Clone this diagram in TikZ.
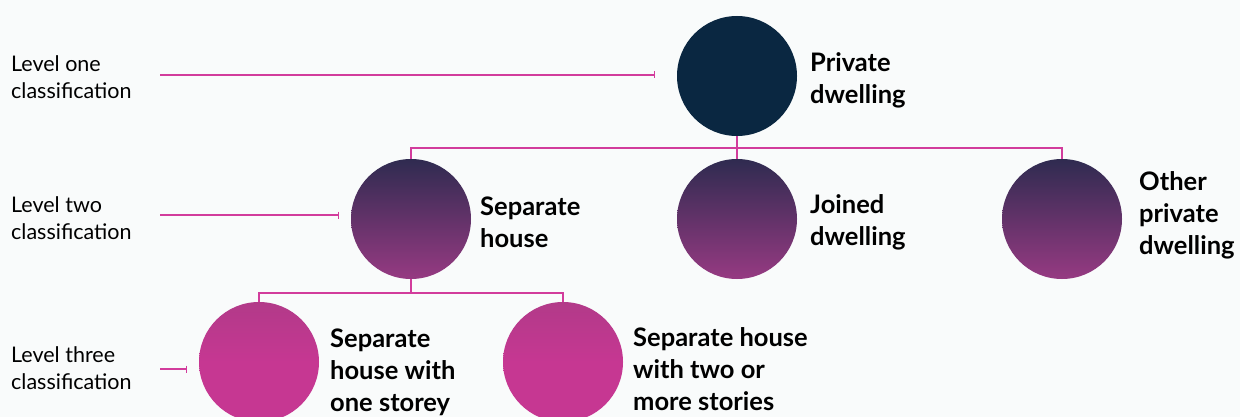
\documentclass[tikz,border=0pt]{standalone}
\usepackage{fontspec}
\setmainfont{Lato}
\usetikzlibrary{arrows.meta}
\definecolor{bg}{HTML}{F9FBFB}
\definecolor{mag}{HTML}{D23C9C}
\definecolor{navy}{HTML}{0A2741}
\definecolor{gtop}{HTML}{2F2B50}
\definecolor{gbot}{HTML}{963A82}
\definecolor{pink}{HTML}{C63792}
\definecolor{pinktop}{HTML}{B23A89}
\tikzset{
  bubble/.style={circle, minimum size=120pt, inner sep=0pt, draw=none},
  lvlone/.style={bubble, fill=navy},
  lvltwo/.style={bubble, top color=gtop, bottom color=gbot},
  lvlthree/.style={bubble, top color=pinktop, bottom color=pink, middle color=pink},
  lbl/.style={anchor=west, align=left, inner sep=0pt, font=\fontsize{25.5}{32}\selectfont\bfseries},
  lvl/.style={anchor=west, align=left, inner sep=0pt, font=\fontsize{21.5}{26.5}\selectfont},
  conn/.style={draw=mag, line width=2pt},
  guide/.style={draw=mag, line width=1.3pt, -{Bar[width=7pt,line width=1.3pt]}}
}
\begin{document}
\begin{tikzpicture}[x=1pt,y=-1pt]
\fill[bg] (0,0) rectangle (1240,417);
\useasboundingbox (0,0) rectangle (1240,417);
% circles
\node[lvlone] (p) at (737,76) {};
\node[lvltwo] (s) at (411,219) {};
\node[lvltwo] (j) at (737,219) {};
\node[lvltwo] (o) at (1062,219) {};
\node[lvlthree] (s1) at (259,362) {};
\node[lvlthree] (s2) at (563,362) {};
% connectors
\coordinate (b1) at (737,148);
\coordinate (b2) at (411,293);
\draw[conn] (p.south) -- (j.north);
\draw[conn] (s.north) |- (b1) -| (o.north);
\draw[conn] (s.south) -- (b2);
\draw[conn] (s1.north) |- (b2) -| (s2.north);
% level labels
\node[lvl] (l1) at (11,77) {Level one\\classification};
\node[lvl] (l2) at (11,218) {Level two\\classification};
\node[lvl] (l3) at (11,368) {Level three\\classification};
\coordinate (g1s) at (160,75); \coordinate (g1e) at (655,75);
\coordinate (g2s) at (160,215); \coordinate (g2e) at (339,215);
\coordinate (g3s) at (160,369); \coordinate (g3e) at (187,369);
\draw[guide] (g1s) -- (g1e);
\draw[guide] (g2s) -- (g2e);
\draw[guide] (g3s) -- (g3e);
% bold labels
\node[lbl] (tp) at (810,80) {Private\\dwelling};
\node[lbl] (ts) at (480,222) {Separate\\house};
\node[lbl] (tj) at (810,222) {Joined\\dwelling};
\node[lbl] (to) at (1139,215) {Other\\private\\dwelling};
\node[lbl] (ts1) at (330,372) {Separate\\house with\\one storey};
\node[lbl] (ts2) at (633,369) {Separate house\\with two or\\more stories};
\end{tikzpicture}
\end{document}
